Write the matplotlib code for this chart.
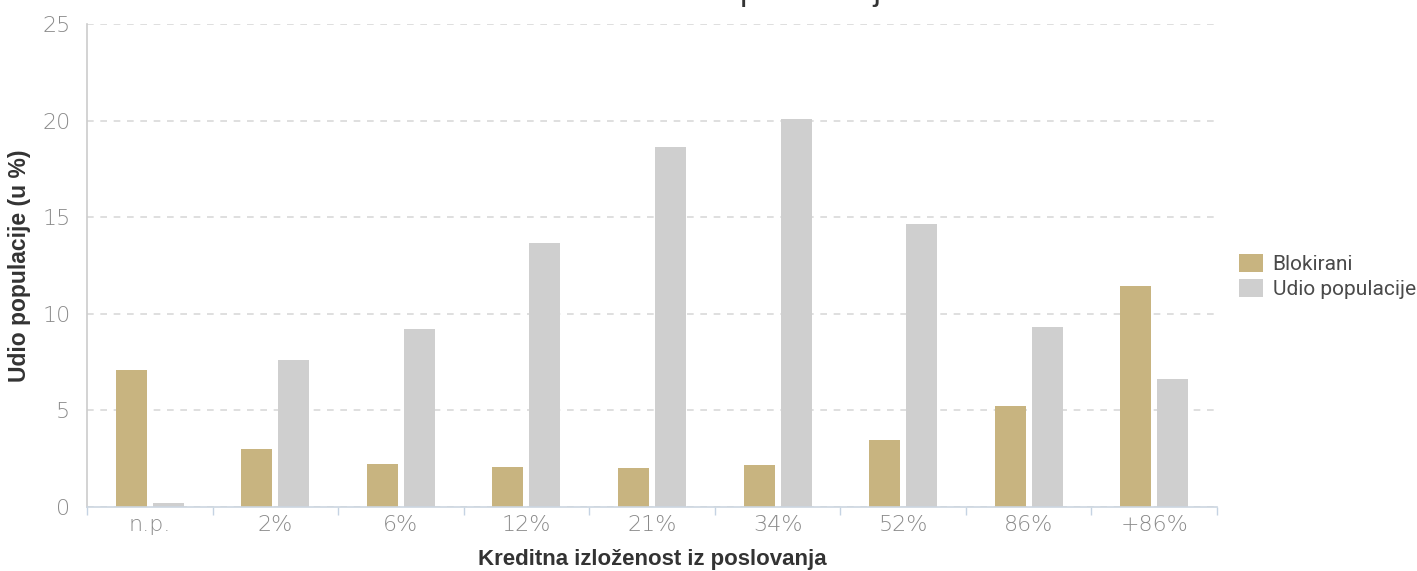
import numpy as np
import matplotlib.pyplot as plt

# podaci
kategorije = ['n.p.', '2%', '6%', '12%', '21%', '34%', '52%', '86%', '+86%']
blokirani = [7.09, 3.0, 2.23, 2.07, 2.02, 2.17, 3.47, 5.23, 11.44]
udio_populacije = [0.2, 7.6, 9.21, 13.66, 18.63, 20.08, 14.65, 9.32, 6.63]

boja_blok = '#C8B480'
boja_udio = '#CFCFCF'

fig = plt.figure(figsize=(14.17, 5.71), dpi=100)
ax = fig.add_axes([87 / 1417, 1 - 507 / 571, (1217 - 87) / 1417, (507 - 24) / 571])

x = np.arange(len(kategorije))
sirina = 0.247
pomak = 0.147
ax.bar(x - pomak, blokirani, sirina, color=boja_blok, label='Blokirani', zorder=2)
ax.bar(x + pomak, udio_populacije, sirina, color=boja_udio, label='Udio populacije', zorder=2)

ax.set_xlim(-0.5, len(kategorije) - 0.5)
ax.set_ylim(0, 25)
ax.set_yticks([0, 5, 10, 15, 20, 25])
ax.yaxis.grid(True, linestyle=(0, (4, 4)), color='#D9D9D9', linewidth=1.2, zorder=0)
ax.set_axisbelow(True)

# x ticks at category boundaries, labels centred
ax.set_xticks(x)
ax.set_xticklabels(kategorije)
ax.set_xticks(np.arange(len(kategorije) + 1) - 0.5, minor=True)
ax.tick_params(axis='x', which='major', length=0, pad=6)
ax.tick_params(axis='x', which='minor', length=6, color='#C5D3E3', width=1)
ax.tick_params(axis='y', length=0, pad=12)
for lbl in ax.get_xticklabels() + ax.get_yticklabels():
    lbl.set_fontfamily('DejaVu Sans')
    lbl.set_fontweight('light')
    lbl.set_fontsize(16)
    lbl.set_color('#8A8A8A')

for s in ['top', 'right']:
    ax.spines[s].set_visible(False)
ax.spines['left'].set_color('#CCCCCC')
ax.spines['bottom'].set_color('#CCD6E0')
ax.spines['left'].set_linewidth(1.2)
ax.spines['bottom'].set_linewidth(1.2)

ax.set_xlabel('Kreditna izloženost iz poslovanja', fontsize=16, fontweight='bold',
              color='#333333', family='Liberation Sans', labelpad=10)
ax.set_ylabel('Udio populacije (u %)', fontsize=16.5, fontweight='bold',
              color='#333333', family='Liberation Sans', labelpad=8)

# naslov je odrezan na vrhu slike, kao na predlošku
fig.text(0.464, 1 - 0.3 / 571, 'Kreditna izloženost iz poslovanja', ha='center', va='baseline',
         fontsize=24, color='#333333', family='Liberation Sans')

leg = ax.legend(loc='upper left', bbox_to_anchor=(1231 / 1417, 1 - 246 / 571),
                bbox_transform=fig.transFigure, frameon=False, fontsize=15,
                handlelength=1.15, handleheight=0.95, handletextpad=0.45,
                labelspacing=0.2, borderaxespad=0)
for t in leg.get_texts():
    t.set_color('#4A4A4A')
    t.set_fontfamily('Roboto')
for h in leg.legend_handles:
    h.set_linewidth(0)

fig.savefig('out.png', dpi=100)
